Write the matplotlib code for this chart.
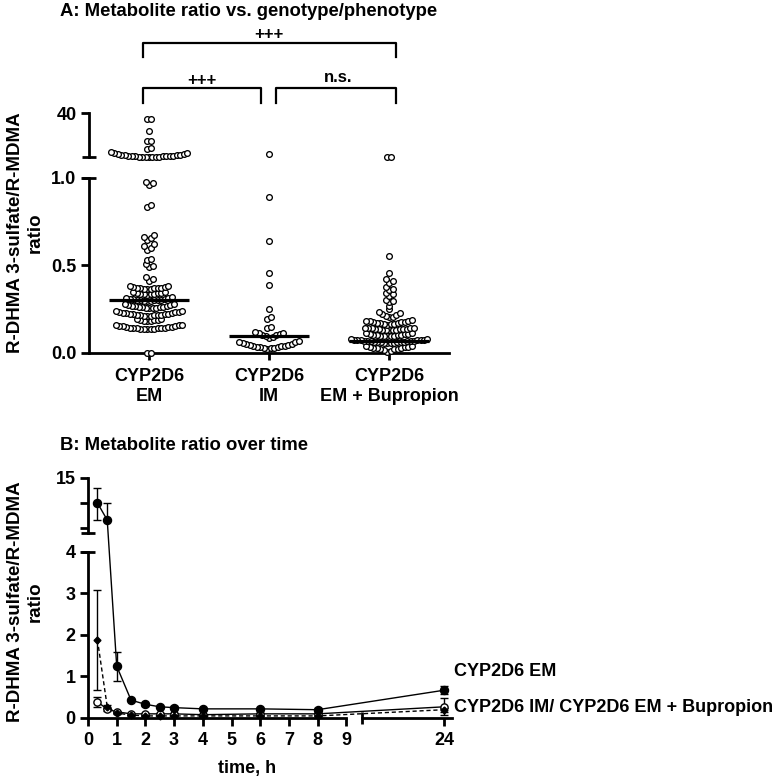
#!/usr/bin/env python3
"""Metabolite ratio figure: A = ratio per genotype group, B = ratio over time."""

import numpy as np
import matplotlib

matplotlib.use("Agg")
import matplotlib.pyplot as plt
from matplotlib.transforms import blended_transform_factory

plt.rcParams["font.family"] = ["Liberation Sans", "DejaVu Sans"]
plt.rcParams["font.weight"] = "bold"
plt.rcParams["font.size"] = 13

W_PX, H_PX = 779, 780

# ---------------- panel A: ratio per group ----------------
group_labels = ["CYP2D6\nEM", "CYP2D6\nIM", "CYP2D6\nEM + Bupropion"]

em_ratio = [
    0.0, 0.0,
    0.135, 0.136, 0.137, 0.138, 0.139, 0.140, 0.141, 0.142, 0.143, 0.144,
    0.145, 0.146, 0.148, 0.150, 0.152, 0.154, 0.156, 0.158, 0.160, 0.162,
    0.180, 0.182, 0.184, 0.186, 0.188, 0.190, 0.193, 0.196,
    0.212, 0.213, 0.214, 0.215, 0.216, 0.217, 0.218, 0.219, 0.220, 0.221,
    0.222, 0.224, 0.226, 0.228, 0.230, 0.232, 0.234, 0.236, 0.238, 0.240,
    0.256, 0.257, 0.258, 0.259, 0.260, 0.261, 0.262, 0.264, 0.266, 0.268,
    0.270, 0.272, 0.275, 0.278, 0.281,
    0.297, 0.298, 0.299, 0.300, 0.301, 0.302, 0.303, 0.305, 0.307, 0.309,
    0.311, 0.313, 0.315, 0.318,
    0.334, 0.335, 0.336, 0.337, 0.338, 0.340, 0.342, 0.344, 0.347, 0.350,
    0.366, 0.367, 0.368, 0.369, 0.370, 0.371, 0.372, 0.374, 0.376, 0.378,
    0.381, 0.384,
    0.410, 0.420, 0.432,
    0.490, 0.498, 0.506,
    0.530, 0.538,
    0.590, 0.600, 0.610, 0.620,
    0.645, 0.655, 0.665, 0.675,
    0.835, 0.848,
    0.962, 0.970, 0.978,
    1.1, 1.15, 1.2, 1.25, 1.3, 1.35, 1.4, 1.5, 1.6, 1.7, 1.8, 1.9, 2.0,
    2.2, 2.4, 2.6, 2.8, 3.1, 3.4, 3.8, 4.2, 4.7, 5.2,
    8.0, 9.0,
    15.0, 15.4,
    24.5,
    34.5, 35.0,
]

im_ratio = [
    0.024, 0.026, 0.028, 0.030, 0.032, 0.034, 0.036, 0.038, 0.040, 0.042,
    0.045, 0.048, 0.051, 0.054, 0.057, 0.060, 0.064, 0.068,
    0.088, 0.092, 0.096, 0.100, 0.104, 0.108, 0.112, 0.117, 0.122,
    0.145, 0.150,
    0.195, 0.207,
    0.25, 0.39, 0.455, 0.64, 0.89,
    3.7,
]

bup_ratio = [
    0.006, 0.012, 0.018, 0.020, 0.022, 0.024, 0.026, 0.028, 0.030, 0.032,
    0.034, 0.036, 0.038, 0.040,
    0.056, 0.057, 0.058, 0.059, 0.060, 0.061, 0.062, 0.063, 0.064, 0.065,
    0.066, 0.067, 0.068, 0.069, 0.070, 0.071, 0.072, 0.073, 0.074, 0.075,
    0.076, 0.077, 0.078, 0.079,
    0.095, 0.096, 0.097, 0.098, 0.099, 0.100, 0.101, 0.102, 0.104, 0.106,
    0.108, 0.110, 0.112, 0.114,
    0.130, 0.131, 0.132, 0.133, 0.134, 0.135, 0.136, 0.137, 0.138, 0.139,
    0.140, 0.141, 0.142, 0.143, 0.145,
    0.161, 0.163, 0.165, 0.167, 0.169, 0.171, 0.173, 0.175, 0.177, 0.179,
    0.181, 0.183, 0.185, 0.187,
    0.203, 0.207, 0.211, 0.215, 0.220, 0.226, 0.232,
    0.25, 0.27,
    0.290, 0.298, 0.303,
    0.328, 0.335, 0.340,
    0.358, 0.366, 0.375,
    0.400, 0.410, 0.420,
    0.455, 0.554,
    1.1, 1.12,
]

group_medians = [0.30, 0.095, 0.07]

# ---------------- panel B: ratio over time ----------------
time_h = [0.33, 0.67, 1, 1.5, 2, 2.5, 3, 4, 6, 8, 24]
em_mean = [10.0, 6.6, 1.25, 0.43, 0.33, 0.27, 0.25, 0.22, 0.22, 0.20, 0.67]
em_err_lo = [3.4, 0.0, 0.35, 0.03, 0.03, 0.03, 0.03, 0.02, 0.03, 0.03, 0.10]
em_err_hi = [3.0, 3.4, 0.35, 0.03, 0.03, 0.03, 0.03, 0.02, 0.03, 0.03, 0.10]
im_mean = [0.39, 0.21, 0.15, 0.10, 0.10, 0.10, 0.10, 0.08, 0.10, 0.10, 0.27]
im_err = [0.12, 0.03, 0.03, 0.02, 0.02, 0.02, 0.02, 0.02, 0.02, 0.02, 0.20]
bup_mean = [1.88, 0.27, 0.12, 0.07, 0.05, 0.05, 0.05, 0.05, 0.05, 0.05, 0.20]
bup_err = [1.20, 0.05, 0.02, 0.01, 0.01, 0.01, 0.01, 0.01, 0.01, 0.01, 0.05]


def piecewise_scale(vals, px):
    vals = np.asarray(vals, dtype=float)
    px = np.asarray(px, dtype=float)

    def forward(v):
        return np.interp(v, vals, px)

    def inverse(p):
        return np.interp(p, px, vals)

    return forward, inverse


def rect(left, top, right, bottom):
    return [left / W_PX, 1 - bottom / H_PX, (right - left) / W_PX, (bottom - top) / H_PX]


def fy(py):
    # figure fraction from pixel row (for annotations)
    return 1 - py / H_PX


def swarm(ax, values, gap_px=2.5, step_px=3.5, max_w_px=80):
    """Prism-like rows: close values share a row, spread centre-out."""
    vals = np.sort(np.asarray(values, dtype=float))
    pts = np.column_stack([np.zeros_like(vals), vals])
    ypix = ax.transData.transform(pts)[:, 1]
    px_per_x = ax.transData.transform([[1, 0]])[0, 0] - ax.transData.transform([[0, 0]])[0, 0]
    rows, cur = [], [0]
    for i in range(1, len(vals)):
        if ypix[i] - ypix[i - 1] > gap_px:
            rows.append(cur)
            cur = [i]
        else:
            cur.append(i)
    rows.append(cur)
    dx = np.zeros_like(vals)
    for row in rows:
        n = len(row)
        step = min(step_px, max_w_px / max(n, 1))
        shift = -0.5 if n % 2 == 0 else 0.0
        for k, idx in enumerate(row):
            slot = (k + 1) // 2 * (1 if k % 2 else -1)
            dx[idx] = (slot + shift) * step / px_per_x
    return vals, dx


fig = plt.figure(figsize=(W_PX / 100, H_PX / 100), dpi=100)

# ================= panel A =================
axA = fig.add_axes(rect(89, 113, 449, 353))
axA.set_yscale("function", functions=piecewise_scale(
    [-10, 0, 1.0, 1.05, 40, 100], [-1750, 0, 175, 196, 240, 307.8]))
axA.set_ylim(0, 40)
axA.set_xlim(-0.5, 2.5)

for i, (vals, med) in enumerate(zip([em_ratio, im_ratio, bup_ratio], group_medians)):
    y, dx = swarm(axA, vals)
    axA.scatter(i + dx, y, s=17, facecolors="white", edgecolors="black",
                linewidths=0.95, clip_on=False, zorder=3)
    axA.hlines(med, i - 0.33, i + 0.33, colors="black", linewidth=2.3, zorder=4)

for side in ("left", "top", "right"):
    axA.spines[side].set_visible(False)
axA.spines["bottom"].set_linewidth(2)

ytr = axA.get_yaxis_transform()
axA.plot([0, 0], [0, 1.0], transform=ytr, color="black", lw=2, clip_on=False)
axA.plot([0, 0], [1.05, 40], transform=ytr, color="black", lw=2, clip_on=False)
axA.plot([0, 0], [1.0, 1.05], transform=ytr, color="black", lw=0, marker="_",
         ms=10, mew=2, clip_on=False)

axA.set_yticks([0, 0.5, 1.0, 40])
axA.set_yticklabels(["0.0", "0.5", "1.0", "40"])
axA.set_xticks([0, 1, 2])
axA.set_xticklabels(group_labels)
axA.tick_params(axis="y", direction="out", length=6, width=2, pad=3)
axA.tick_params(axis="x", direction="out", length=5, width=2, pad=6)

# significance brackets
btr = blended_transform_factory(axA.transData, fig.transFigure)
bracket_kw = dict(transform=btr, color="black", lw=1.6, clip_on=False)
axA.plot([-0.05, -0.05, 2.06, 2.06], [fy(57), fy(43), fy(43), fy(57)], **bracket_kw)
axA.plot([-0.05, -0.05, 0.93, 0.93], [fy(103), fy(88), fy(88), fy(103)], **bracket_kw)
axA.plot([1.06, 1.06, 2.06, 2.06], [fy(103), fy(88), fy(88), fy(103)], **bracket_kw)
axA.text(1.0, fy(35), "+++", transform=btr, ha="center", va="center", fontsize=12)
axA.text(0.44, fy(80), "+++", transform=btr, ha="center", va="center", fontsize=12)
axA.text(1.58, fy(77), "n.s.", transform=btr, ha="center", va="center", fontsize=12)

fig.text(60 / W_PX, fy(12), "A: Metabolite ratio vs. genotype/phenotype",
         ha="left", va="center", fontsize=13.3)
fig.text(25 / W_PX, fy(233), "R-DHMA 3-sulfate/R-MDMA\nratio", rotation=90,
         ha="center", va="center", multialignment="center", fontsize=13.5)

# ================= panel B =================
axB = fig.add_axes(rect(88, 478, 452, 718))
axB.set_xscale("function", functions=piecewise_scale(
    [-10, 0, 9, 9.5, 25.36, 100], [-287, 0, 258.3, 274.3, 364, 786.1]))
axB.set_yscale("function", functions=piecewise_scale(
    [-10, 0, 4, 4.01, 15, 100], [-415, 0, 166, 185, 239.95, 664.95]))
axB.set_xlim(0, 25.36)
axB.set_ylim(0, 15)

axB.errorbar(time_h, em_mean, yerr=[em_err_lo, em_err_hi], fmt="-o", color="black",
             ms=5.8, lw=1, elinewidth=1, capsize=3.2, capthick=1, clip_on=False, zorder=4)
axB.errorbar(time_h, im_mean, yerr=im_err, fmt="-o", color="black", mfc="white",
             ms=5.2, mew=1, lw=1, elinewidth=1, capsize=3.2, capthick=1, clip_on=False, zorder=3)
axB.errorbar(time_h, bup_mean, yerr=bup_err, fmt="D", ls=(0, (3, 2)), color="black",
             ms=3.5, lw=1, elinewidth=1, capsize=3.2, capthick=1, clip_on=False, zorder=3)

for side in ("left", "top", "right", "bottom"):
    axB.spines[side].set_visible(False)

ytrB = axB.get_yaxis_transform()
axB.plot([0, 0], [0, 4], transform=ytrB, color="black", lw=2, clip_on=False)
axB.plot([0, 0], [4.01, 15], transform=ytrB, color="black", lw=2, clip_on=False)
axB.plot([0, 0], [4, 4.01], transform=ytrB, color="black", lw=0, marker="_",
         ms=10, mew=2, clip_on=False)
xtrB = axB.get_xaxis_transform()
axB.plot([0, 9], [0, 0], transform=xtrB, color="black", lw=2, clip_on=False)
axB.plot([9.5, 25.36], [0, 0], transform=xtrB, color="black", lw=2, clip_on=False)
axB.plot([9.5], [0], transform=xtrB, color="black", lw=0, marker="|",
         ms=8, mew=2, clip_on=False)

axB.set_yticks([0, 1, 2, 3, 4, 15])
axB.set_yticks([5, 10], minor=True)
axB.set_xticks([0, 1, 2, 3, 4, 5, 6, 7, 8, 9, 24])
axB.set_xticklabels(["0", "1", "2", "3", "4", "5", "6", "7", "8", "9", "24"])
axB.set_yticklabels(["0", "1", "2", "3", "4", "15"])
axB.tick_params(axis="y", which="both", direction="out", length=6, width=2, pad=3)
axB.tick_params(axis="x", direction="out", length=6, width=2, pad=4)

fig.text(454 / W_PX, fy(671), "CYP2D6 EM", ha="left", va="center", fontsize=13)
fig.text(454 / W_PX, fy(708), "CYP2D6 IM/ CYP2D6 EM + Bupropion",
         ha="left", va="center", fontsize=13)
fig.text(247 / W_PX, fy(768), "time, h", ha="center", va="center", fontsize=13)
fig.text(60 / W_PX, fy(445), "B: Metabolite ratio over time",
         ha="left", va="center", fontsize=13.3)
fig.text(25 / W_PX, fy(602), "R-DHMA 3-sulfate/R-MDMA\nratio", rotation=90,
         ha="center", va="center", multialignment="center", fontsize=13.5)

fig.savefig("out.png", dpi=100)
